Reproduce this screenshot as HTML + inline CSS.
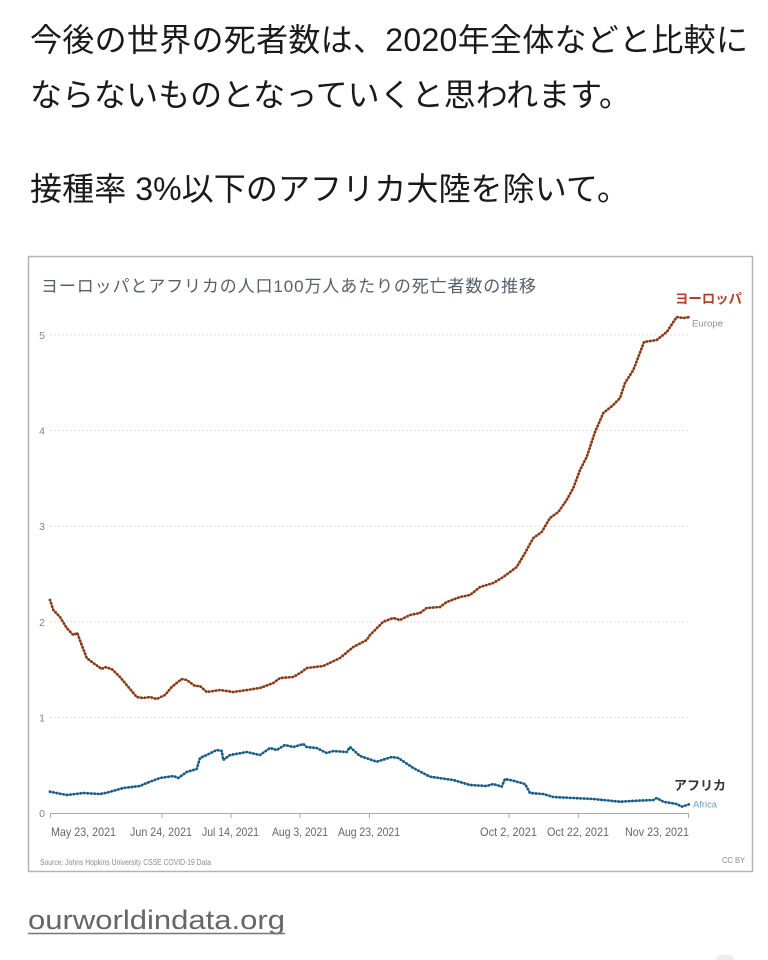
<!DOCTYPE html>
<html>
<head>
<meta charset="utf-8">
<style>
html,body{margin:0;padding:0;background:#fff;}
body{width:768px;height:960px;overflow:hidden;}
svg{display:block;}
.jp{font-family:"Liberation Sans","Noto Sans CJK JP",sans-serif;}
</style>
</head>
<body>
<svg width="768" height="960" viewBox="0 0 768 960" xmlns="http://www.w3.org/2000/svg">
<rect x="0" y="0" width="768" height="960" fill="#fff"/>

<!-- top text -->
<g class="jp" fill="#1a1a1a" font-size="32">
<text x="30" y="51" textLength="718" lengthAdjust="spacing">今後の世界の死者数は、2020年全体などと比較に</text>
<text x="30" y="106" textLength="601" lengthAdjust="spacing">ならないものとなっていくと思われます。</text>
<text x="30" y="200" textLength="599" lengthAdjust="spacing">接種率 3%以下のアフリカ大陸を除いて。</text>
</g>

<!-- chart frame -->
<rect x="28.5" y="256.5" width="724" height="615" fill="#fff" stroke="#b4b4b4" stroke-width="1.5"/>

<!-- chart title -->
<text class="jp" x="41" y="292" font-size="17" fill="#56606c" textLength="495" lengthAdjust="spacing">ヨーロッパとアフリカの人口100万人あたりの死亡者数の推移</text>

<!-- gridlines -->
<g stroke="#dcdcdc" stroke-width="1" stroke-dasharray="2,2">
<line x1="50" y1="717.4" x2="688" y2="717.4"/>
<line x1="50" y1="621.8" x2="688" y2="621.8"/>
<line x1="50" y1="526.2" x2="688" y2="526.2"/>
<line x1="50" y1="430.6" x2="688" y2="430.6"/>
<line x1="50" y1="335" x2="688" y2="335"/>
</g>

<!-- y labels -->
<g font-family="Liberation Sans, sans-serif" font-size="10.5" fill="#858585" text-anchor="end">
<text x="45" y="817">0</text>
<text x="45" y="721.4">1</text>
<text x="45" y="625.8">2</text>
<text x="45" y="530.2">3</text>
<text x="45" y="434.6">4</text>
<text x="45" y="339">5</text>
</g>

<!-- x axis -->
<line x1="50" y1="813.5" x2="689" y2="813.5" stroke="#aaa" stroke-width="1"/>
<g stroke="#aaa" stroke-width="1">
<line x1="50.5" y1="813" x2="50.5" y2="818"/>
<line x1="162" y1="813" x2="162" y2="818"/>
<line x1="231" y1="813" x2="231" y2="818"/>
<line x1="300" y1="813" x2="300" y2="818"/>
<line x1="369.5" y1="813" x2="369.5" y2="818"/>
<line x1="509" y1="813" x2="509" y2="818"/>
<line x1="578.5" y1="813" x2="578.5" y2="818"/>
<line x1="688.5" y1="813" x2="688.5" y2="818"/>
</g>
<g font-family="Liberation Sans, sans-serif" font-size="12" fill="#666">
<text x="51" y="836" textLength="65" lengthAdjust="spacingAndGlyphs">May 23, 2021</text>
<text x="130" y="836" textLength="62" lengthAdjust="spacingAndGlyphs">Jun 24, 2021</text>
<text x="202" y="836" textLength="57" lengthAdjust="spacingAndGlyphs">Jul 14, 2021</text>
<text x="272" y="836" textLength="56" lengthAdjust="spacingAndGlyphs">Aug 3, 2021</text>
<text x="338" y="836" textLength="62" lengthAdjust="spacingAndGlyphs">Aug 23, 2021</text>
<text x="480" y="836" textLength="57" lengthAdjust="spacingAndGlyphs">Oct 2, 2021</text>
<text x="547" y="836" textLength="62" lengthAdjust="spacingAndGlyphs">Oct 22, 2021</text>
<text x="625" y="836" textLength="64" lengthAdjust="spacingAndGlyphs">Nov 23, 2021</text>
</g>

<!-- Europe series -->
<path fill="none" stroke="#c06a3a" stroke-width="1.8" stroke-linejoin="round"
d="M50,600 L53.3,610 L60,617 L66.7,628 L73.3,635 L77.3,633 L81.7,645 L86.7,658 L93.3,663 L101.7,669 L105,667 L111.7,669 L120,677 L128.3,687 L136.7,697 L143.3,698 L150,697 L156.7,699 L165,695 L171.7,687 L181.7,679 L186.7,680 L195,686 L200,686 L206.7,692 L220,690 L233.3,692 L246.7,690 L260,688 L273.3,683 L280,678 L293.3,677 L301.7,672 L306.7,668 L323.3,666 L340,658 L353.3,647 L366.7,640 L370,635 L380,625 L383.3,621.7 L393.3,618 L400,620 L410,615 L420,613 L426.7,608 L440,607 L446.7,602 L460,597 L470,595 L480,587 L493.3,583 L503.3,577 L516.7,567 L525,553 L533.3,538 L541.7,532 L550,518 L558.3,512 L566.7,500 L573.3,488 L580,470 L586.7,457 L595,432 L603.3,413 L613.3,405 L620,398 L625,383 L633.3,370 L638.3,357 L644,342 L656.7,340 L666.7,332 L676.7,317 L683.3,318 L690,317"/>
<path fill="none" stroke="#863a1c" stroke-width="2.8" stroke-linecap="round" stroke-dasharray="0 3.47"
d="M50,600 L53.3,610 L60,617 L66.7,628 L73.3,635 L77.3,633 L81.7,645 L86.7,658 L93.3,663 L101.7,669 L105,667 L111.7,669 L120,677 L128.3,687 L136.7,697 L143.3,698 L150,697 L156.7,699 L165,695 L171.7,687 L181.7,679 L186.7,680 L195,686 L200,686 L206.7,692 L220,690 L233.3,692 L246.7,690 L260,688 L273.3,683 L280,678 L293.3,677 L301.7,672 L306.7,668 L323.3,666 L340,658 L353.3,647 L366.7,640 L370,635 L380,625 L383.3,621.7 L393.3,618 L400,620 L410,615 L420,613 L426.7,608 L440,607 L446.7,602 L460,597 L470,595 L480,587 L493.3,583 L503.3,577 L516.7,567 L525,553 L533.3,538 L541.7,532 L550,518 L558.3,512 L566.7,500 L573.3,488 L580,470 L586.7,457 L595,432 L603.3,413 L613.3,405 L620,398 L625,383 L633.3,370 L638.3,357 L644,342 L656.7,340 L666.7,332 L676.7,317 L683.3,318 L690,317"/>

<!-- Africa series -->
<path fill="none" stroke="#3f88b6" stroke-width="1.8" stroke-linejoin="round"
d="M50,791.7 L66.7,795 L83.3,793 L100,794 L106.7,792.7 L123.3,788 L140,786 L146.7,783 L160,778 L173.3,776 L178.3,778 L186.7,772 L196.7,769 L200,758 L206.7,755 L216.7,750 L221.7,751 L223.3,760 L230,755 L246.7,752 L260,755 L270,748 L276.7,750 L285,745 L293.3,747 L303.3,744 L306.7,747 L316.7,748 L326.7,753 L333.3,751 L346.7,752 L350,747 L360,756 L376.7,761.7 L391.7,757 L398.3,758 L413.3,768 L430,776.7 L453.3,780 L470,785 L486.7,786 L493.3,784 L501.7,786.7 L505,779 L513.3,780.7 L525,784 L530,793 L543.3,794 L553.3,797 L573.3,798 L593.3,799 L620,801.7 L636.7,800.7 L653.3,800 L656.7,798 L663.3,801.7 L676.7,804 L681.7,806.7 L690,804"/>
<path fill="none" stroke="#1d5a82" stroke-width="2.8" stroke-linecap="round" stroke-dasharray="0 3.47"
d="M50,791.7 L66.7,795 L83.3,793 L100,794 L106.7,792.7 L123.3,788 L140,786 L146.7,783 L160,778 L173.3,776 L178.3,778 L186.7,772 L196.7,769 L200,758 L206.7,755 L216.7,750 L221.7,751 L223.3,760 L230,755 L246.7,752 L260,755 L270,748 L276.7,750 L285,745 L293.3,747 L303.3,744 L306.7,747 L316.7,748 L326.7,753 L333.3,751 L346.7,752 L350,747 L360,756 L376.7,761.7 L391.7,757 L398.3,758 L413.3,768 L430,776.7 L453.3,780 L470,785 L486.7,786 L493.3,784 L501.7,786.7 L505,779 L513.3,780.7 L525,784 L530,793 L543.3,794 L553.3,797 L573.3,798 L593.3,799 L620,801.7 L636.7,800.7 L653.3,800 L656.7,798 L663.3,801.7 L676.7,804 L681.7,806.7 L690,804"/>

<!-- series labels -->
<text class="jp" x="675" y="303.5" font-size="13.5" font-weight="bold" fill="#b3402a" textLength="67" lengthAdjust="spacing">ヨーロッパ</text>
<text x="692" y="326.5" font-family="Liberation Sans, sans-serif" font-size="9" fill="#9a8a80" textLength="31" lengthAdjust="spacingAndGlyphs">Europe</text>
<text class="jp" x="674" y="790" font-size="13" font-weight="bold" fill="#333" textLength="52" lengthAdjust="spacing">アフリカ</text>
<text x="693" y="807.5" font-family="Liberation Sans, sans-serif" font-size="9" fill="#6a9cc6" textLength="24" lengthAdjust="spacingAndGlyphs">Africa</text>

<!-- source / license -->
<text x="40" y="865" font-family="Liberation Sans, sans-serif" font-size="8" fill="#8a8a8a" textLength="171" lengthAdjust="spacingAndGlyphs">Source: Johns Hopkins University CSSE COVID-19 Data</text>
<text x="722" y="863" font-family="Liberation Sans, sans-serif" font-size="8" fill="#8a8a8a" textLength="23" lengthAdjust="spacingAndGlyphs">CC BY</text>

<!-- link -->
<text x="28" y="929" font-family="Liberation Sans, sans-serif" font-size="27" fill="#666" textLength="257" lengthAdjust="spacingAndGlyphs">ourworldindata.org</text>
<line x1="28" y1="933.5" x2="285" y2="933.5" stroke="#777" stroke-width="1.5"/>

<!-- faint element bottom right -->
<rect x="716" y="955" width="18" height="8" rx="4" fill="#eeeeee"/>
</svg>
</body>
</html>
